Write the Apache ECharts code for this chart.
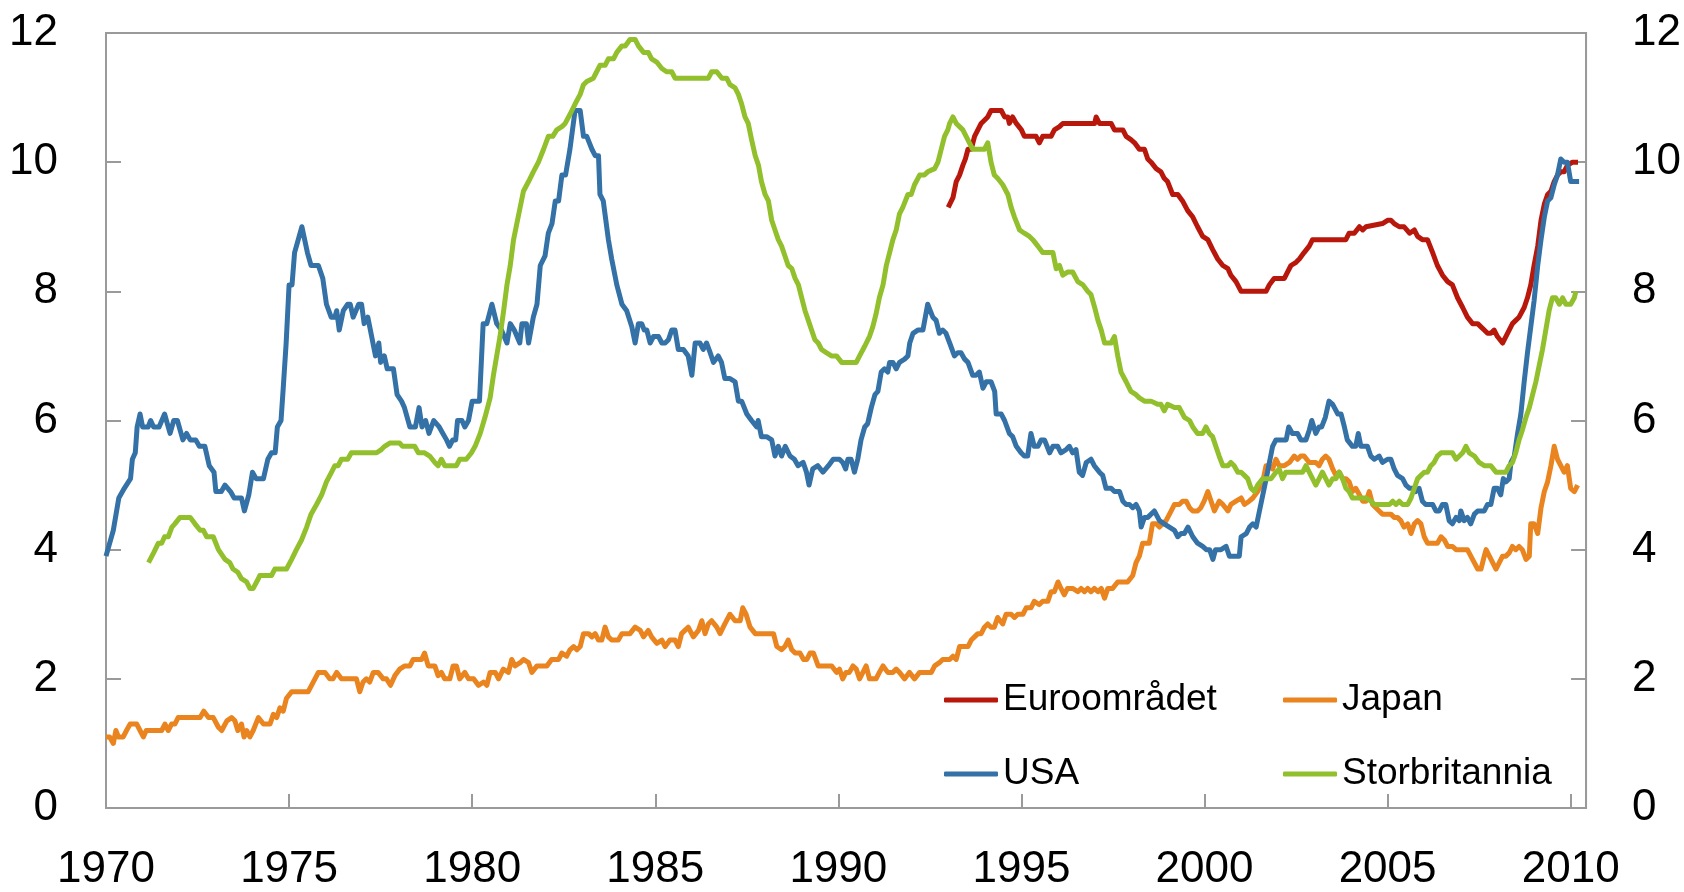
<!DOCTYPE html>
<html lang="no">
<head>
<meta charset="UTF-8">
<title>Arbeidsledighet</title>
<script src="https://cdn.jsdelivr.net/npm/echarts@6/dist/echarts.min.js"></script>
<style>
  html, body { margin: 0; padding: 0; background: #fff; }
  #chart { width: 1684px; height: 892px; }
</style>
</head>
<body>
<div id="chart"></div>
<script>
// serienavn (legend)
var seriesNames = ['Euroområdet', 'Japan', 'USA', 'Storbritannia'];
var seriesColors = ['#b8170c', '#e9841f', '#3371a6', '#92bf2c'];

// x-akse: år, y-akse: prosent
var yearTicks = [1970, 1975, 1980, 1985, 1990, 1995, 2000, 2005, 2010];
var valueTicks = [0, 2, 4, 6, 8, 10, 12];

// data lest av figuren: [år, prosent]
var euroArea = [
  [1993.0,9.3],[1993.13,9.45],[1993.22,9.7],[1993.31,9.8],[1993.4,9.95],[1993.47,10.05],[1993.54,10.2],[1993.63,10.2],
  [1993.72,10.4],[1993.81,10.5],[1993.9,10.6],[1993.99,10.65],[1994.08,10.7],[1994.17,10.8],[1994.3,10.8],[1994.45,10.8],
  [1994.54,10.7],[1994.63,10.7],[1994.67,10.6],[1994.76,10.7],[1994.86,10.6],[1995.0,10.5],[1995.08,10.4],[1995.22,10.4],
  [1995.4,10.4],[1995.49,10.3],[1995.58,10.4],[1995.81,10.4],[1995.9,10.5],[1996.04,10.55],[1996.13,10.6],[1997.0,10.6],
  [1997.04,10.7],[1997.13,10.6],[1997.45,10.6],[1997.54,10.5],[1997.77,10.5],[1997.86,10.4],[1997.99,10.35],[1998.09,10.3],
  [1998.22,10.2],[1998.36,10.2],[1998.45,10.05],[1998.54,10.0],[1998.68,9.9],[1998.81,9.85],[1998.9,9.75],[1998.99,9.7],
  [1999.13,9.5],[1999.27,9.5],[1999.4,9.4],[1999.54,9.25],[1999.68,9.15],[1999.81,9.0],[1999.95,8.85],[2000.09,8.8],
  [2000.22,8.65],[2000.36,8.5],[2000.5,8.4],[2000.64,8.35],[2000.72,8.25],[2000.86,8.15],[2001.0,8.0],[2001.68,8.0],
  [2001.77,8.1],[2001.9,8.2],[2002.18,8.2],[2002.27,8.3],[2002.36,8.4],[2002.5,8.45],[2002.59,8.5],[2002.72,8.6],
  [2002.86,8.7],[2002.95,8.8],[2003.86,8.8],[2003.95,8.9],[2004.09,8.9],[2004.23,9.0],[2004.32,8.95],[2004.41,9.0],
  [2004.86,9.05],[2005.0,9.1],[2005.09,9.1],[2005.18,9.05],[2005.32,9.0],[2005.45,9.0],[2005.6,8.9],[2005.73,8.95],
  [2005.82,8.85],[2005.95,8.8],[2006.09,8.8],[2006.23,8.6],[2006.36,8.4],[2006.5,8.25],[2006.64,8.15],[2006.77,8.1],
  [2006.91,7.9],[2007.05,7.75],[2007.18,7.6],[2007.32,7.5],[2007.46,7.5],[2007.55,7.45],[2007.64,7.4],[2007.73,7.35],
  [2007.82,7.35],[2007.91,7.4],[2008.0,7.3],[2008.14,7.2],[2008.23,7.3],[2008.32,7.4],[2008.41,7.5],[2008.5,7.55],
  [2008.59,7.6],[2008.73,7.75],[2008.82,7.9],[2008.91,8.1],[2009.0,8.4],[2009.1,8.7],[2009.19,9.1],[2009.28,9.35],
  [2009.37,9.5],[2009.46,9.55],[2009.55,9.7],[2009.64,9.8],[2009.73,9.85],[2009.82,9.85],[2009.91,9.95],[2010.05,10.0],
  [2010.2,10.0]
];

var japan = [
  [1970.0,1.1],[1970.1,1.1],[1970.2,1.0],[1970.27,1.2],[1970.34,1.1],[1970.47,1.1],[1970.56,1.2],[1970.66,1.3],
  [1970.84,1.3],[1970.93,1.2],[1971.02,1.1],[1971.1,1.2],[1971.52,1.2],[1971.61,1.3],[1971.7,1.2],[1971.79,1.3],
  [1971.88,1.3],[1971.97,1.4],[1972.57,1.4],[1972.67,1.5],[1972.8,1.4],[1972.93,1.4],[1973.07,1.25],[1973.16,1.2],
  [1973.3,1.35],[1973.43,1.4],[1973.52,1.35],[1973.6,1.2],[1973.7,1.3],[1973.77,1.1],[1973.84,1.2],[1973.93,1.1],
  [1974.02,1.2],[1974.16,1.4],[1974.3,1.3],[1974.48,1.3],[1974.57,1.45],[1974.66,1.4],[1974.75,1.55],[1974.84,1.5],
  [1974.93,1.7],[1975.07,1.8],[1975.52,1.8],[1975.66,1.95],[1975.8,2.1],[1975.98,2.1],[1976.11,2.0],[1976.2,2.0],
  [1976.3,2.1],[1976.43,2.0],[1976.84,2.0],[1976.93,1.8],[1977.02,1.95],[1977.11,2.0],[1977.2,1.95],[1977.3,2.1],
  [1977.43,2.1],[1977.57,2.0],[1977.66,2.0],[1977.77,1.9],[1977.89,2.05],[1978.02,2.15],[1978.16,2.2],[1978.3,2.2],
  [1978.39,2.3],[1978.53,2.3],[1978.62,2.3],[1978.7,2.4],[1978.8,2.2],[1978.98,2.2],[1979.07,2.05],[1979.16,2.1],
  [1979.25,2.0],[1979.39,2.0],[1979.48,2.2],[1979.57,2.2],[1979.66,2.0],[1979.8,2.1],[1979.9,2.0],[1980.04,2.0],
  [1980.17,1.9],[1980.31,1.95],[1980.4,1.9],[1980.49,2.1],[1980.63,2.1],[1980.72,2.0],[1980.85,2.15],[1980.99,2.1],
  [1981.08,2.3],[1981.17,2.2],[1981.31,2.25],[1981.4,2.3],[1981.54,2.25],[1981.63,2.1],[1981.77,2.2],[1982.04,2.2],
  [1982.17,2.3],[1982.36,2.3],[1982.45,2.4],[1982.58,2.35],[1982.67,2.45],[1982.77,2.5],[1982.86,2.45],[1982.95,2.5],
  [1983.04,2.7],[1983.18,2.7],[1983.27,2.65],[1983.36,2.7],[1983.45,2.6],[1983.54,2.6],[1983.63,2.8],[1983.72,2.65],
  [1983.81,2.6],[1983.99,2.6],[1984.09,2.7],[1984.31,2.7],[1984.45,2.8],[1984.59,2.75],[1984.68,2.65],[1984.81,2.75],
  [1984.9,2.65],[1985.04,2.55],[1985.18,2.6],[1985.27,2.5],[1985.4,2.6],[1985.54,2.6],[1985.63,2.5],[1985.72,2.7],
  [1985.81,2.75],[1985.9,2.8],[1986.04,2.65],[1986.18,2.75],[1986.27,2.9],[1986.36,2.7],[1986.45,2.85],[1986.54,2.9],
  [1986.68,2.8],[1986.77,2.7],[1986.9,2.85],[1987.04,3.0],[1987.18,2.9],[1987.32,2.9],[1987.39,3.1],[1987.48,3.0],
  [1987.59,2.8],[1987.73,2.7],[1988.23,2.7],[1988.32,2.5],[1988.45,2.45],[1988.54,2.5],[1988.63,2.6],[1988.73,2.45],
  [1988.82,2.4],[1988.95,2.4],[1989.05,2.3],[1989.14,2.3],[1989.23,2.4],[1989.32,2.4],[1989.45,2.2],[1989.82,2.2],
  [1989.95,2.1],[1990.03,2.15],[1990.12,2.0],[1990.21,2.1],[1990.3,2.1],[1990.4,2.2],[1990.49,2.15],[1990.58,2.0],
  [1990.67,2.1],[1990.76,2.2],[1990.85,2.0],[1991.03,2.0],[1991.12,2.1],[1991.22,2.2],[1991.35,2.1],[1991.49,2.1],
  [1991.58,2.15],[1991.67,2.1],[1991.81,2.0],[1991.94,2.1],[1992.08,2.0],[1992.22,2.1],[1992.54,2.1],[1992.63,2.2],
  [1992.76,2.25],[1992.85,2.3],[1993.04,2.3],[1993.13,2.35],[1993.22,2.3],[1993.31,2.5],[1993.54,2.5],[1993.63,2.6],
  [1993.72,2.65],[1993.81,2.7],[1993.9,2.7],[1993.99,2.8],[1994.08,2.85],[1994.17,2.8],[1994.26,2.8],[1994.35,2.95],
  [1994.49,2.85],[1994.58,3.0],[1994.72,3.0],[1994.81,2.95],[1994.9,3.0],[1995.04,3.0],[1995.13,3.1],[1995.26,3.1],
  [1995.35,3.2],[1995.49,3.15],[1995.58,3.2],[1995.72,3.2],[1995.81,3.35],[1995.9,3.35],[1996.0,3.5],[1996.08,3.4],
  [1996.17,3.3],[1996.26,3.4],[1996.4,3.4],[1996.54,3.35],[1996.63,3.4],[1996.72,3.35],[1996.81,3.4],[1996.9,3.35],
  [1996.99,3.4],[1997.09,3.35],[1997.18,3.4],[1997.27,3.25],[1997.36,3.4],[1997.49,3.4],[1997.63,3.5],[1997.9,3.5],
  [1998.04,3.6],[1998.13,3.8],[1998.22,3.9],[1998.31,4.1],[1998.49,4.1],[1998.58,4.4],[1998.68,4.4],[1998.77,4.35],
  [1998.86,4.4],[1998.95,4.45],[1999.09,4.6],[1999.18,4.7],[1999.31,4.7],[1999.4,4.75],[1999.5,4.75],[1999.59,4.65],
  [1999.68,4.6],[1999.81,4.6],[1999.9,4.65],[1999.99,4.75],[2000.09,4.9],[2000.18,4.75],[2000.27,4.6],[2000.4,4.75],
  [2000.5,4.7],[2000.64,4.6],[2000.72,4.7],[2000.86,4.75],[2001.0,4.8],[2001.09,4.7],[2001.22,4.75],[2001.32,4.8],
  [2001.45,4.9],[2001.59,5.05],[2001.68,5.3],[2001.77,5.3],[2001.86,5.25],[2001.95,5.4],[2002.04,5.3],[2002.18,5.3],
  [2002.32,5.35],[2002.45,5.45],[2002.54,5.4],[2002.63,5.45],[2002.72,5.45],[2002.86,5.35],[2002.95,5.35],[2003.04,5.35],
  [2003.13,5.3],[2003.22,5.4],[2003.31,5.45],[2003.4,5.4],[2003.5,5.25],[2003.59,5.15],[2003.68,5.2],[2003.77,5.1],
  [2003.86,5.1],[2003.95,5.05],[2004.04,4.9],[2004.13,4.95],[2004.23,4.85],[2004.32,4.75],[2004.41,4.75],[2004.5,4.9],
  [2004.59,4.7],[2004.68,4.65],[2004.77,4.6],[2004.86,4.55],[2005.0,4.55],[2005.09,4.55],[2005.18,4.5],[2005.27,4.5],
  [2005.36,4.45],[2005.45,4.35],[2005.55,4.4],[2005.64,4.25],[2005.73,4.4],[2005.82,4.45],[2005.91,4.4],[2006.0,4.2],
  [2006.09,4.1],[2006.36,4.1],[2006.46,4.2],[2006.55,4.15],[2006.64,4.05],[2006.77,4.05],[2006.87,4.0],[2007.18,4.0],
  [2007.32,3.85],[2007.46,3.7],[2007.55,3.7],[2007.64,3.9],[2007.69,4.0],[2007.78,3.9],[2007.87,3.8],[2007.96,3.7],
  [2008.05,3.8],[2008.14,3.9],[2008.23,3.9],[2008.32,3.95],[2008.41,4.05],[2008.5,4.0],[2008.59,4.05],[2008.68,4.0],
  [2008.78,3.85],[2008.87,3.9],[2008.91,4.4],[2009.0,4.4],[2009.1,4.25],[2009.19,4.65],[2009.28,4.9],[2009.37,5.05],
  [2009.46,5.3],[2009.55,5.6],[2009.64,5.4],[2009.73,5.3],[2009.82,5.2],[2009.91,5.3],[2010.0,4.95],[2010.1,4.9],
  [2010.19,5.0]
];

var usa = [
  [1970.0,3.9],[1970.2,4.3],[1970.35,4.8],[1970.5,4.95],[1970.67,5.1],[1970.72,5.4],[1970.8,5.5],[1970.85,5.9],
  [1970.93,6.1],[1971.0,5.9],[1971.15,5.9],[1971.22,6.0],[1971.3,5.9],[1971.45,5.9],[1971.6,6.1],[1971.75,5.8],
  [1971.85,6.0],[1971.95,6.0],[1972.1,5.7],[1972.2,5.8],[1972.3,5.7],[1972.45,5.7],[1972.55,5.6],[1972.7,5.6],
  [1972.82,5.3],[1972.95,5.2],[1973.0,4.9],[1973.15,4.9],[1973.25,5.0],[1973.4,4.9],[1973.5,4.8],[1973.7,4.8],
  [1973.78,4.6],[1973.9,4.85],[1974.0,5.2],[1974.1,5.1],[1974.3,5.1],[1974.42,5.4],[1974.52,5.5],[1974.62,5.5],
  [1974.68,5.9],[1974.78,6.0],[1974.84,6.5],[1974.92,7.2],[1975.0,8.1],[1975.08,8.1],[1975.15,8.6],[1975.35,9.0],
  [1975.5,8.6],[1975.6,8.4],[1975.8,8.4],[1975.92,8.2],[1976.02,7.8],[1976.15,7.6],[1976.25,7.6],[1976.3,7.7],
  [1976.37,7.4],[1976.48,7.7],[1976.6,7.8],[1976.67,7.8],[1976.75,7.6],[1976.9,7.8],[1976.98,7.8],[1977.05,7.5],
  [1977.15,7.6],[1977.22,7.4],[1977.36,7.0],[1977.45,7.2],[1977.5,6.9],[1977.6,7.0],[1977.68,6.8],[1977.85,6.8],
  [1977.95,6.4],[1978.07,6.3],[1978.15,6.2],[1978.3,5.9],[1978.45,5.9],[1978.55,6.2],[1978.63,5.9],[1978.73,6.0],
  [1978.82,5.8],[1978.95,6.0],[1979.1,5.9],[1979.2,5.8],[1979.3,5.7],[1979.38,5.6],[1979.47,5.7],[1979.55,5.7],
  [1979.6,6.0],[1979.72,6.0],[1979.8,5.9],[1979.9,6.0],[1980.0,6.3],[1980.2,6.3],[1980.3,7.5],[1980.4,7.5],
  [1980.54,7.8],[1980.67,7.5],[1980.8,7.4],[1980.95,7.2],[1981.04,7.5],[1981.15,7.4],[1981.3,7.2],[1981.36,7.5],
  [1981.48,7.5],[1981.54,7.2],[1981.67,7.6],[1981.77,7.8],[1981.86,8.4],[1981.99,8.55],[1982.08,8.9],[1982.18,9.05],
  [1982.27,9.4],[1982.36,9.4],[1982.45,9.8],[1982.55,9.8],[1982.67,10.2],[1982.81,10.8],[1982.95,10.8],[1983.04,10.4],
  [1983.13,10.4],[1983.27,10.2],[1983.36,10.1],[1983.45,10.1],[1983.49,9.5],[1983.58,9.4],[1983.72,8.8],[1983.81,8.5],
  [1983.95,8.1],[1984.09,7.8],[1984.22,7.7],[1984.36,7.45],[1984.45,7.2],[1984.54,7.5],[1984.63,7.5],[1984.7,7.4],
  [1984.77,7.4],[1984.86,7.2],[1984.95,7.3],[1985.09,7.3],[1985.18,7.2],[1985.27,7.2],[1985.36,7.25],[1985.45,7.4],
  [1985.54,7.4],[1985.63,7.1],[1985.77,7.1],[1985.9,7.0],[1986.0,6.7],[1986.09,7.2],[1986.22,7.2],[1986.31,7.1],
  [1986.4,7.2],[1986.5,7.05],[1986.59,6.9],[1986.72,7.0],[1986.81,6.9],[1986.9,6.65],[1987.04,6.65],[1987.18,6.6],
  [1987.27,6.3],[1987.36,6.3],[1987.5,6.1],[1987.63,6.0],[1987.77,5.9],[1987.81,6.0],[1987.9,5.75],[1988.04,5.75],
  [1988.18,5.7],[1988.27,5.45],[1988.36,5.6],[1988.45,5.45],[1988.55,5.6],[1988.68,5.45],[1988.8,5.4],[1988.9,5.3],
  [1989.04,5.35],[1989.13,5.2],[1989.2,5.0],[1989.3,5.25],[1989.44,5.3],[1989.58,5.2],[1989.73,5.3],[1989.86,5.4],
  [1989.95,5.4],[1990.03,5.4],[1990.12,5.35],[1990.2,5.25],[1990.26,5.4],[1990.35,5.4],[1990.44,5.2],[1990.53,5.4],
  [1990.62,5.7],[1990.72,5.9],[1990.8,5.95],[1990.9,6.2],[1991.0,6.4],[1991.08,6.45],[1991.17,6.75],[1991.26,6.8],
  [1991.35,6.75],[1991.4,6.9],[1991.49,6.9],[1991.58,6.8],[1991.67,6.9],[1991.81,6.95],[1991.9,7.0],[1991.95,7.2],
  [1992.04,7.35],[1992.17,7.4],[1992.31,7.4],[1992.44,7.8],[1992.58,7.6],[1992.67,7.55],[1992.76,7.35],[1992.85,7.4],
  [1992.94,7.35],[1993.04,7.2],[1993.17,7.0],[1993.26,7.05],[1993.35,7.05],[1993.45,6.95],[1993.54,6.9],[1993.67,6.7],
  [1993.76,6.7],[1993.85,6.75],[1993.95,6.5],[1994.04,6.6],[1994.17,6.6],[1994.27,6.45],[1994.31,6.1],[1994.45,6.1],
  [1994.54,6.0],[1994.67,5.8],[1994.76,5.75],[1994.86,5.6],[1994.99,5.5],[1995.08,5.45],[1995.17,5.45],[1995.26,5.8],
  [1995.35,5.6],[1995.45,5.6],[1995.54,5.7],[1995.63,5.7],[1995.77,5.5],[1995.86,5.6],[1995.99,5.6],[1996.08,5.5],
  [1996.22,5.55],[1996.31,5.6],[1996.4,5.5],[1996.49,5.55],[1996.58,5.2],[1996.67,5.15],[1996.77,5.35],[1996.9,5.4],
  [1996.99,5.3],[1997.13,5.2],[1997.22,5.15],[1997.31,4.95],[1997.45,4.95],[1997.54,4.9],[1997.68,4.9],[1997.77,4.75],
  [1997.86,4.7],[1997.95,4.7],[1998.04,4.65],[1998.13,4.7],[1998.22,4.6],[1998.27,4.35],[1998.36,4.5],[1998.45,4.5],
  [1998.63,4.6],[1998.77,4.45],[1998.9,4.4],[1999.04,4.35],[1999.18,4.3],[1999.27,4.2],[1999.36,4.25],[1999.45,4.25],
  [1999.55,4.35],[1999.68,4.2],[1999.81,4.1],[1999.95,4.05],[2000.05,4.0],[2000.14,4.0],[2000.23,3.85],[2000.3,4.0],
  [2000.45,4.0],[2000.59,4.05],[2000.68,3.9],[2000.95,3.9],[2001.0,4.2],[2001.14,4.25],[2001.23,4.35],[2001.32,4.4],
  [2001.41,4.35],[2001.5,4.6],[2001.63,4.95],[2001.72,5.2],[2001.86,5.6],[2001.95,5.7],[2002.1,5.7],[2002.23,5.7],
  [2002.3,5.9],[2002.4,5.8],[2002.54,5.8],[2002.63,5.7],[2002.77,5.7],[2002.86,5.85],[2002.93,6.0],[2003.04,5.8],
  [2003.13,5.9],[2003.2,5.9],[2003.3,6.05],[2003.4,6.3],[2003.5,6.25],[2003.64,6.1],[2003.73,6.1],[2003.82,5.9],
  [2003.9,5.7],[2004.04,5.6],[2004.13,5.6],[2004.2,5.8],[2004.27,5.6],[2004.45,5.6],[2004.54,5.45],[2004.64,5.4],
  [2004.77,5.45],[2004.86,5.35],[2005.0,5.4],[2005.09,5.4],[2005.18,5.25],[2005.27,5.15],[2005.41,5.1],[2005.5,5.0],
  [2005.6,4.95],[2005.68,4.95],[2005.77,4.9],[2005.86,4.95],[2005.95,4.75],[2006.04,4.7],[2006.13,4.7],[2006.23,4.7],
  [2006.32,4.6],[2006.41,4.6],[2006.5,4.7],[2006.59,4.7],[2006.68,4.45],[2006.77,4.4],[2006.87,4.5],[2006.96,4.45],
  [2007.0,4.6],[2007.09,4.45],[2007.18,4.5],[2007.27,4.4],[2007.37,4.55],[2007.46,4.6],[2007.55,4.6],[2007.64,4.6],
  [2007.73,4.7],[2007.82,4.7],[2007.91,4.95],[2008.0,4.95],[2008.09,4.85],[2008.16,5.1],[2008.23,5.05],[2008.32,5.1],
  [2008.37,5.35],[2008.46,5.45],[2008.55,5.8],[2008.64,6.1],[2008.73,6.6],[2008.82,7.05],[2008.91,7.45],[2009.0,7.85],
  [2009.1,8.4],[2009.19,8.8],[2009.28,9.15],[2009.37,9.4],[2009.46,9.45],[2009.55,9.65],[2009.64,9.8],[2009.73,10.05],
  [2009.82,10.0],[2009.91,10.0],[2010.0,9.7],[2010.1,9.7],[2010.23,9.7]
];

var uk = [
  [1971.16,3.8],[1971.3,3.95],[1971.43,4.1],[1971.52,4.1],[1971.6,4.2],[1971.7,4.2],[1971.8,4.35],[1971.88,4.4],
  [1972.02,4.5],[1972.3,4.5],[1972.43,4.4],[1972.57,4.3],[1972.66,4.3],[1972.75,4.2],[1972.93,4.2],[1973.07,4.0],
  [1973.25,3.85],[1973.38,3.8],[1973.47,3.7],[1973.6,3.65],[1973.7,3.55],[1973.84,3.5],[1973.93,3.4],[1974.02,3.4],
  [1974.16,3.55],[1974.2,3.6],[1974.52,3.6],[1974.61,3.7],[1974.93,3.7],[1975.07,3.85],[1975.2,4.0],[1975.34,4.15],
  [1975.48,4.35],[1975.6,4.55],[1975.75,4.7],[1975.89,4.85],[1976.02,5.05],[1976.16,5.2],[1976.25,5.3],[1976.34,5.3],
  [1976.43,5.4],[1976.6,5.4],[1976.7,5.5],[1977.39,5.5],[1977.52,5.55],[1977.61,5.6],[1977.75,5.65],[1978.02,5.65],
  [1978.1,5.6],[1978.43,5.6],[1978.53,5.5],[1978.7,5.5],[1978.84,5.45],[1978.98,5.35],[1979.07,5.3],[1979.16,5.4],
  [1979.25,5.3],[1979.57,5.3],[1979.66,5.4],[1979.84,5.4],[1979.98,5.5],[1980.08,5.6],[1980.22,5.8],[1980.35,6.05],
  [1980.49,6.35],[1980.58,6.7],[1980.67,7.0],[1980.76,7.3],[1980.86,7.7],[1980.95,8.1],[1981.04,8.4],[1981.13,8.8],
  [1981.22,9.05],[1981.31,9.3],[1981.4,9.55],[1981.54,9.7],[1981.67,9.85],[1981.81,10.0],[1981.95,10.2],[1982.08,10.4],
  [1982.2,10.4],[1982.31,10.5],[1982.45,10.55],[1982.54,10.6],[1982.68,10.75],[1982.81,10.9],[1982.95,11.05],[1983.04,11.2],
  [1983.13,11.25],[1983.31,11.3],[1983.4,11.4],[1983.49,11.5],[1983.63,11.5],[1983.72,11.6],[1983.86,11.6],[1983.95,11.7],
  [1984.09,11.8],[1984.18,11.8],[1984.31,11.9],[1984.45,11.9],[1984.54,11.8],[1984.68,11.7],[1984.81,11.7],[1984.9,11.6],
  [1985.04,11.55],[1985.18,11.45],[1985.31,11.4],[1985.45,11.4],[1985.54,11.3],[1986.45,11.3],[1986.54,11.4],[1986.68,11.4],
  [1986.82,11.3],[1986.95,11.3],[1987.04,11.2],[1987.18,11.15],[1987.27,11.05],[1987.36,10.9],[1987.45,10.7],[1987.54,10.6],
  [1987.63,10.35],[1987.73,10.1],[1987.82,9.95],[1987.9,9.7],[1988.0,9.5],[1988.09,9.4],[1988.18,9.1],[1988.27,8.95],
  [1988.36,8.8],[1988.45,8.7],[1988.54,8.55],[1988.63,8.4],[1988.73,8.35],[1988.82,8.2],[1988.91,8.1],[1989.0,7.9],
  [1989.09,7.7],[1989.18,7.55],[1989.27,7.4],[1989.36,7.25],[1989.45,7.2],[1989.54,7.1],[1989.67,7.05],[1989.81,7.0],
  [1989.95,7.0],[1990.09,6.9],[1990.49,6.9],[1990.58,7.0],[1990.72,7.15],[1990.85,7.3],[1990.94,7.45],[1991.03,7.65],
  [1991.12,7.9],[1991.22,8.1],[1991.31,8.4],[1991.4,8.6],[1991.49,8.8],[1991.58,8.95],[1991.67,9.2],[1991.76,9.3],
  [1991.9,9.5],[1991.99,9.5],[1992.08,9.65],[1992.22,9.8],[1992.35,9.8],[1992.44,9.85],[1992.63,9.9],[1992.72,10.0],
  [1992.81,10.2],[1992.9,10.4],[1992.99,10.5],[1993.04,10.6],[1993.13,10.7],[1993.22,10.6],[1993.31,10.55],[1993.4,10.5],
  [1993.49,10.4],[1993.58,10.3],[1993.67,10.2],[1993.99,10.2],[1994.08,10.3],[1994.17,10.0],[1994.26,9.8],[1994.35,9.75],
  [1994.49,9.65],[1994.63,9.5],[1994.72,9.3],[1994.81,9.15],[1994.95,8.95],[1995.08,8.9],[1995.22,8.85],[1995.31,8.8],
  [1995.45,8.7],[1995.58,8.6],[1995.86,8.6],[1995.95,8.35],[1996.04,8.4],[1996.13,8.25],[1996.27,8.3],[1996.4,8.3],
  [1996.54,8.15],[1996.68,8.1],[1996.81,8.0],[1996.9,7.95],[1997.0,7.75],[1997.09,7.55],[1997.18,7.4],[1997.27,7.2],
  [1997.45,7.2],[1997.54,7.3],[1997.63,7.0],[1997.72,6.75],[1997.86,6.6],[1997.99,6.45],[1998.13,6.4],[1998.22,6.35],
  [1998.36,6.3],[1998.54,6.3],[1998.72,6.25],[1998.81,6.25],[1998.9,6.15],[1998.99,6.25],[1999.18,6.2],[1999.31,6.2],
  [1999.45,6.05],[1999.59,6.0],[1999.68,5.9],[1999.81,5.8],[1999.95,5.8],[2000.04,5.9],[2000.13,5.8],[2000.22,5.75],
  [2000.31,5.6],[2000.4,5.45],[2000.5,5.3],[2000.64,5.3],[2000.72,5.35],[2000.81,5.3],[2000.91,5.2],[2001.0,5.2],
  [2001.09,5.15],[2001.18,5.1],[2001.27,4.95],[2001.36,4.9],[2001.45,5.0],[2001.59,5.1],[2001.82,5.1],[2001.95,5.2],
  [2002.04,5.25],[2002.13,5.1],[2002.22,5.2],[2002.68,5.2],[2002.77,5.3],[2002.86,5.2],[2002.95,5.1],[2003.04,5.0],
  [2003.13,5.1],[2003.22,5.2],[2003.31,5.1],[2003.4,5.0],[2003.5,5.1],[2003.59,5.1],[2003.68,5.2],[2003.77,5.1],
  [2003.86,4.95],[2003.95,4.9],[2004.04,4.8],[2004.41,4.8],[2004.55,4.75],[2004.64,4.7],[2005.05,4.7],[2005.14,4.75],
  [2005.23,4.7],[2005.32,4.75],[2005.41,4.7],[2005.55,4.7],[2005.64,4.8],[2005.73,4.95],[2005.82,5.1],[2005.91,5.15],
  [2006.0,5.2],[2006.09,5.2],[2006.18,5.3],[2006.27,5.35],[2006.36,5.45],[2006.46,5.5],[2006.77,5.5],[2006.87,5.4],
  [2006.96,5.45],[2007.05,5.5],[2007.14,5.6],[2007.23,5.5],[2007.37,5.45],[2007.5,5.35],[2007.64,5.3],[2007.82,5.3],
  [2007.96,5.2],[2008.23,5.2],[2008.32,5.3],[2008.41,5.35],[2008.5,5.5],[2008.59,5.7],[2008.68,5.85],[2008.78,6.05],
  [2008.87,6.2],[2008.96,6.4],[2009.05,6.6],[2009.14,6.85],[2009.23,7.1],[2009.32,7.4],[2009.41,7.7],[2009.5,7.9],
  [2009.59,7.9],[2009.69,7.8],[2009.78,7.9],[2009.87,7.8],[2010.0,7.8],[2010.1,7.9],[2010.14,8.0]
];

var seriesData = [euroArea, japan, usa, uk];

var chart = echarts.init(document.getElementById('chart'));
var fontFamily = '"Liberation Sans", Arial, sans-serif';
var axisGray = '#9a9a9a';

function yAxisCfg(pos, margin) {
  return {
    type: 'value',
    position: pos,
    min: valueTicks[0],
    max: valueTicks[valueTicks.length - 1],
    interval: 2,
    splitLine: { show: false },
    axisLine: { show: true, lineStyle: { color: axisGray, width: 2 } },
    axisTick: { show: true, inside: true, length: 15, lineStyle: { color: axisGray, width: 2 } },
    axisLabel: { margin: margin, fontSize: 44, color: '#000', fontFamily: fontFamily }
  };
}

var option = {
  animation: false,
  backgroundColor: '#fff',
  textStyle: { fontFamily: fontFamily },
  grid: {
    left: 106, right: 97, top: 33, bottom: 83,
    show: true, borderColor: axisGray, borderWidth: 2, backgroundColor: 'transparent'
  },
  legend: [
    {
      data: [seriesNames[0], seriesNames[2]],
      orient: 'vertical', left: 944, top: 680, padding: 0,
      itemGap: 34, itemWidth: 54, itemHeight: 5, icon: 'roundRect',
      selectedMode: false,
      textStyle: { fontSize: 37, lineHeight: 40, color: '#000', fontFamily: fontFamily }
    },
    {
      data: [seriesNames[1], seriesNames[3]],
      orient: 'vertical', left: 1283, top: 680, padding: 0,
      itemGap: 34, itemWidth: 54, itemHeight: 5, icon: 'roundRect',
      selectedMode: false,
      textStyle: { fontSize: 37, lineHeight: 40, color: '#000', fontFamily: fontFamily }
    }
  ],
  xAxis: {
    type: 'value',
    min: yearTicks[0],
    max: 2010.42,
    interval: 5,
    splitLine: { show: false },
    axisLine: { show: true, lineStyle: { color: axisGray, width: 2 } },
    axisTick: { show: true, inside: true, length: 14, lineStyle: { color: axisGray, width: 2 } },
    axisLabel: {
      margin: 40, fontSize: 44, lineHeight: 44, color: '#000', fontFamily: fontFamily,
      showMaxLabel: false,
      formatter: function (v) { return yearTicks.indexOf(Math.round(v * 100) / 100) >= 0 ? String(v) : ''; }
    }
  },
  yAxis: [yAxisCfg('left', 48), yAxisCfg('right', 46)],
  series: seriesNames.map(function (name, i) {
    return {
      name: name,
      type: 'line',
      yAxisIndex: 0,
      data: seriesData[i],
      symbol: 'none',
      showSymbol: false,
      lineStyle: { width: 5, color: seriesColors[i], join: 'round' },
      itemStyle: { color: seriesColors[i] },
      z: 2 + i
    };
  })
};

chart.setOption(option);
</script>
</body>
</html>
